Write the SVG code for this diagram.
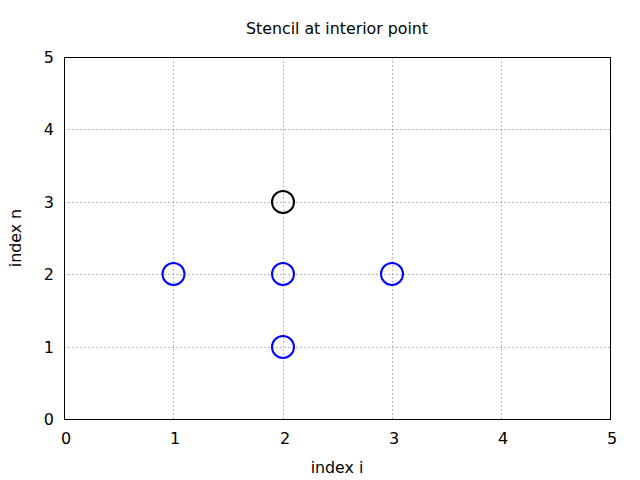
<svg xmlns="http://www.w3.org/2000/svg" width="640" height="480" viewBox="0 0 640 480">
<style>
text{font-family:"DejaVu Sans",sans-serif;font-size:16px;fill:#000}
.t{font-size:15.8px}
.grid{stroke:#707070;stroke-width:1;stroke-dasharray:1 3;fill:none}
.pt{fill:none;stroke-width:2}
</style>
<rect width="640" height="480" fill="#fff"/>
<g id="grid">
<path class="grid" d="M173.5 57.5V419.5M283.5 57.5V419.5M392.5 57.5V419.5M501.5 57.5V419.5M64.5 347.5H610.5M64.5 274.5H610.5M64.5 202.5H610.5M64.5 129.5H610.5"/>
</g>
<rect id="frame" x="64.5" y="57.5" width="546" height="362" fill="none" stroke="#000" stroke-width="1"/>
<g id="xticks" text-anchor="middle">
<text x="66" y="444">0</text><text x="175" y="444">1</text><text x="285" y="444">2</text><text x="394" y="444">3</text><text x="503" y="444">4</text><text x="612" y="444">5</text>
</g>
<g id="yticks" text-anchor="end">
<text x="54" y="425">0</text><text x="54" y="353">1</text><text x="54" y="280">2</text><text x="54" y="208">3</text><text x="54" y="135">4</text><text x="54" y="63">5</text>
</g>
<text class="t" x="337" y="34" text-anchor="middle">Stencil at interior point</text>
<text class="t" x="337" y="473" text-anchor="middle">index i</text>
<text class="t" x="21" y="238" text-anchor="middle" transform="rotate(-90 21 238)">index n</text>
<g id="p13"><circle class="pt" cx="173.5" cy="274" r="11" stroke="#0000ff"/></g>
<g id="p22"><circle class="pt" cx="283" cy="274" r="11" stroke="#0000ff"/></g>
<g id="p32"><circle class="pt" cx="392" cy="274" r="11" stroke="#0000ff"/></g>
<g id="p21"><circle class="pt" cx="283" cy="347" r="11" stroke="#0000ff"/></g>
<g id="p23"><circle class="pt" cx="283" cy="202" r="11" stroke="#000"/></g>
</svg>
